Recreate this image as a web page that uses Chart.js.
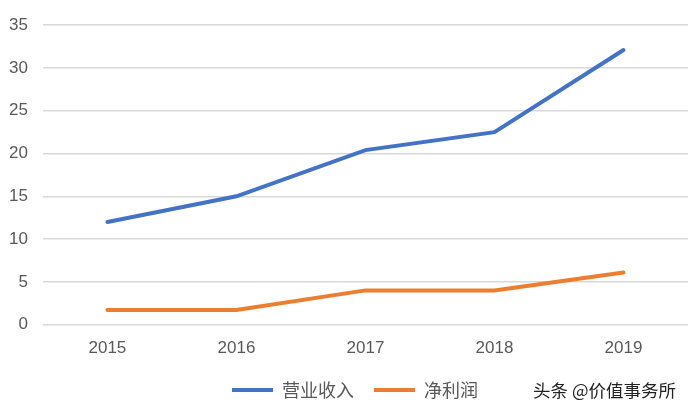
<!DOCTYPE html>
<html>
<head>
<meta charset="utf-8">
<script src="https://cdn.jsdelivr.net/npm/chart.js@4/dist/chart.umd.min.js"></script>
<style>
html,body{margin:0;padding:0;background:#fff;}
#wrap{position:relative;width:688px;height:410px;}
#wm{position:absolute;left:533px;top:377px;font-family:"Noto Sans CJK SC",sans-serif;font-size:17.5px;color:#222;white-space:nowrap;}
</style>
</head>
<body>
<div id="wrap">
<canvas id="c" width="688" height="410"></canvas>
<div id="wm">头条 @价值事务所</div>
</div>
<script>
const categories = ['2015','2016','2017','2018','2019'];
const revenue = [12, 15, 20.4, 22.5, 32.1];
const netProfit = [1.7, 1.7, 4, 4, 6.1];
const yTicks = [0,5,10,15,20,25,30,35];

const legendShift = {
  id:'legendShift',
  afterLayout(chart){
    const l = chart.legend;
    if(!l) return;
    l.left += 14; l.right += 14;
    l.top -= 12; l.bottom -= 12;
  }
};

new Chart(document.getElementById('c'), {
  type: 'line',
  data: {
    labels: categories,
    datasets: [
      {label:'营业收入', data: revenue, borderColor:'#4472C4', backgroundColor:'#4472C4', borderWidth:4, pointRadius:0, borderCapStyle:'round', tension:0},
      {label:'净利润', data: netProfit, borderColor:'#ED7D31', backgroundColor:'#ED7D31', borderWidth:4, pointRadius:0, borderCapStyle:'round', tension:0}
    ]
  },
  plugins:[legendShift],
  options: {
    responsive:false,
    animation:false,
    layout:{padding:{top:17,right:0,left:-6,bottom:-11}},
    plugins:{
      legend:{
        position:'bottom',
        labels:{
          usePointStyle:true,
          pointStyle:'line',
          pointStyleWidth:41,
          boxHeight:4,
          padding:20,
          color:'#595959',
          font:{family:'"Noto Sans CJK SC", sans-serif', size:18}
        }
      },
      tooltip:{enabled:false}
    },
    scales:{
      x:{
        offset:true,
        grid:{display:false, drawTicks:false},
        border:{display:false},
        ticks:{color:'#595959', padding:14, font:{family:'"Liberation Sans", Arial, sans-serif', size:17}}
      },
      y:{
        min:0, max:35,
        afterBuildTicks:(axis)=>{axis.ticks = yTicks.map(v=>({value:v}));},
        grid:{color:'#d9d9d9', lineWidth:1.5, drawTicks:false},
        border:{display:false},
        ticks:{color:'#595959', padding:15, font:{family:'"Liberation Sans", Arial, sans-serif', size:17}}
      }
    }
  }
});
</script>
</body>
</html>
